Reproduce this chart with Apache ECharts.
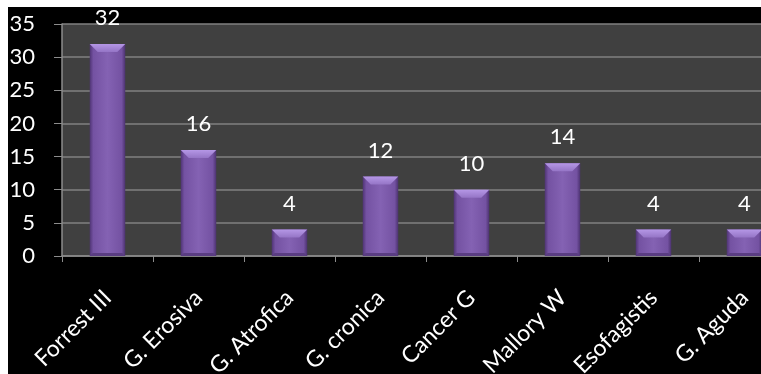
<!DOCTYPE html>
<html>
<head>
<meta charset="utf-8">
<script src="https://cdn.jsdelivr.net/npm/echarts@6/dist/echarts.min.js"></script>
<style>
html,body{margin:0;padding:0;background:#ffffff;width:761px;height:374px;overflow:hidden;position:relative;}
#chart{position:absolute;left:8px;top:7px;width:782px;height:367px;background:#000000;}
</style>
</head>
<body>
<div id="chart"></div>
<script>
const categories = ['Forrest III', 'G. Erosiva', 'G. Atrofica', 'G. cronica', 'Cancer G', 'Mallory W', 'Esofagistis', 'G. Aguda'];
const values = [32, 16, 4, 12, 10, 14, 4, 4];
const yTicks = [0, 5, 10, 15, 20, 25, 30, 35];

const FONT = 'Lato';
const BAR_FRAC = 0.39;
const chart = echarts.init(document.getElementById('chart'), null, {renderer: 'canvas'});
chart.setOption({
  backgroundColor: '#000000',
  animation: false,
  grid: {left: 54, top: 17, right: 0, bottom: 118, show: true, backgroundColor: '#404040', borderWidth: 0,
         containLabel: false, outerBoundsMode: 'none'},
  xAxis: {
    type: 'category',
    data: categories,
    axisLine: {show: true, lineStyle: {color: '#8c8c8c', width: 1.5}},
    axisTick: {show: true, length: 6, lineStyle: {color: '#8c8c8c'}},
    axisLabel: {color: '#ffffff', fontFamily: FONT, fontSize: 23, rotate: 45, margin: 38, interval: 0}
  },
  yAxis: {
    type: 'value',
    min: yTicks[0], max: yTicks[yTicks.length - 1], interval: 5,
    axisLine: {show: true, lineStyle: {color: '#8c8c8c', width: 1.5}},
    axisTick: {show: true, length: 8, inside: false, lineStyle: {color: '#8c8c8c'}},
    splitLine: {show: true, lineStyle: {color: '#808080', width: 1.5}},
    axisLabel: {color: '#ffffff', fontFamily: FONT, fontSize: 22, margin: 27}
  },
  series: [{
    type: 'bar',
    data: values,
    barWidth: (BAR_FRAC * 100) + '%',
    itemStyle: {
      color: new echarts.graphic.LinearGradient(0, 0, 1, 0, [
        {offset: 0, color: '#4f3474'},
        {offset: 0.1, color: '#7452a2'},
        {offset: 0.5, color: '#8462b3'},
        {offset: 0.9, color: '#7452a2'},
        {offset: 1, color: '#4c3270'}
      ])
    },
    label: {show: true, position: 'top', distance: 15, color: '#ffffff', fontFamily: FONT, fontSize: 22}
  }, {
    type: 'custom',
    data: values.map((v, i) => [i, v]),
    silent: true,
    z: 3,
    renderItem: function (params, api) {
      const top = api.coord([api.value(0), api.value(1)]);
      const base = api.coord([api.value(0), 0]);
      const w = api.size([1, 0])[0] * BAR_FRAC;
      const x0 = top[0] - w / 2, x1 = top[0] + w / 2, y0 = top[1], yb = base[1];
      const b = 8;
      return {
        type: 'group',
        children: [{
          type: 'polygon',
          shape: {points: [[x0, y0], [x1, y0], [x1 - b, y0 + b], [x0 + b, y0 + b]]},
          style: {fill: new echarts.graphic.LinearGradient(0, 0, 0, 1, [
            {offset: 0, color: '#b597e6'},
            {offset: 1, color: '#9575c6'}
          ])}
        }, {
          type: 'polygon',
          shape: {points: [[x0, yb], [x1, yb], [x1 - 3, yb - 3], [x0 + 3, yb - 3]]},
          style: {fill: '#5a3d82'}
        }]
      };
    }
  }]
});
</script>
</body>
</html>
